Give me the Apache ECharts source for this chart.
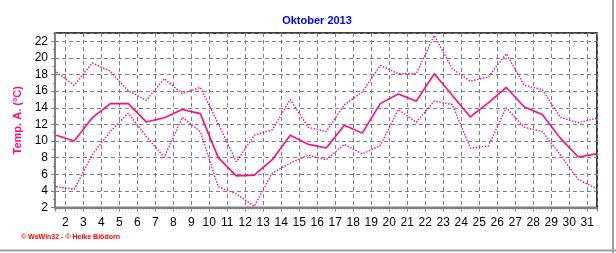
<!DOCTYPE html>
<html><head><meta charset="utf-8">
<script src="https://cdn.jsdelivr.net/npm/echarts@6/dist/echarts.min.js"></script>
<style>html,body{margin:0;padding:0;background:#fff}#c{width:616px;height:253px}</style>
</head><body><div id="c"></div>
<script>
const chartTitle = 'Oktober 2013';
const yAxisName = 'Temp. A. (°C)';
const footerText = '© WsWin32 - © Heike Blödorn';
const days = [1,2,3,4,5,6,7,8,9,10,11,12,13,14,15,16,17,18,19,20,21,22,23,24,25,26,27,28,29,30,31];
const tempMean = [10.7,10.0,12.8,14.5,14.5,12.3,12.8,13.8,13.3,8.0,5.8,5.9,7.75,10.7,9.6,9.15,11.9,10.95,14.5,15.65,14.8,18.1,15.5,12.9,14.6,16.45,14.1,13.2,10.35,8.07,8.45];
const tempMax = [18.3,16.7,19.4,18.4,16.05,14.9,17.5,15.7,16.45,12.1,7.5,10.7,11.35,15.0,11.65,11.15,14.35,15.9,19.1,18.1,18.1,22.7,18.7,17.2,17.7,20.5,16.7,16.2,12.85,12.2,12.75];
const tempMin = [4.5,4.2,8.35,11.15,13.35,10.55,8.05,12.85,11.15,4.48,3.65,2.15,6.15,7.35,8.3,7.75,9.6,8.45,9.45,13.8,12.25,14.8,14.4,9.15,9.4,14.0,11.65,11.15,8.35,5.35,4.3];

const pink = '#FF0A80';
const gridGray = '#808080';
const font = 'Liberation Sans, Arial, sans-serif';
const pts = vals => vals.map((v, i) => [days[i] + 0.5, v]);

const chart = echarts.init(document.getElementById('c'), null, {renderer: 'canvas'});
chart.setOption({
  animation: false,
  backgroundColor: '#fff',
  title: {
    text: chartTitle, left: 312, top: 10, textAlign: 'center',
    textStyle: {color: '#0000FF', fontSize: 11, fontWeight: 'bold', fontFamily: font}
  },
  grid: {left: 55, right: 19, top: 33, bottom: 45.5, show: true, borderColor: '#000', borderWidth: 1.5, backgroundColor: 'transparent'},
  xAxis: {
    type: 'value', min: 1.43, max: 31.54, splitNumber: 30, minInterval: 1, maxInterval: 1,
    axisLine: {show: true, onZero: false, lineStyle: {color: gridGray, width: 2}},
    axisTick: {show: true, length: 4, lineStyle: {color: gridGray}},
    minorTick: {show: true, splitNumber: 6, length: 2, lineStyle: {color: gridGray}},
    axisLabel: {
      margin: 9, color: '#000', fontSize: 12, fontFamily: font, showMinLabel: false, showMaxLabel: false,
      formatter: v => Math.abs(v - Math.round(v)) < 1e-6 ? String(Math.round(v)) : ''
    },
    splitLine: {show: true, lineStyle: {color: gridGray, type: [4, 3], width: 1}}
  },
  yAxis: [{
    type: 'value', min: 2, max: 23, interval: 2,
    name: yAxisName, nameLocation: 'middle', nameGap: 22,
    nameTextStyle: {color: pink, fontSize: 11, fontWeight: 'bold', fontFamily: font},
    axisLine: {show: true, lineStyle: {color: gridGray, width: 2}},
    axisTick: {show: true, length: 4, lineStyle: {color: gridGray}},
    axisLabel: {
      margin: 7, color: '#000', fontSize: 12, fontFamily: font, showMaxLabel: false,
      formatter: v => (v % 2 === 0 && v <= 22) ? String(v) : ''
    },
    splitLine: {show: true, lineStyle: {color: gridGray, type: [4, 3], width: 1}}
  }, {
    type: 'value', min: 2, max: 23, interval: 1, position: 'left',
    axisLine: {show: false}, axisTick: {show: true, length: 2, lineStyle: {color: gridGray}},
    axisLabel: {show: false}, splitLine: {show: false}
  }],
  series: [
    {type: 'line', name: 'max', data: pts(tempMax), showSymbol: false, lineStyle: {color: pink, width: 1.4, type: [1.5, 1.5]}, z: 3},
    {type: 'line', name: 'min', data: pts(tempMin), showSymbol: false, lineStyle: {color: pink, width: 1.4, type: [1.5, 1.5]}, z: 3},
    {type: 'line', name: 'mean', data: pts(tempMean), showSymbol: false, lineStyle: {color: pink, width: 1.6}, z: 4}
  ],
  graphic: [
    {type: 'line', shape: {x1: 613, y1: 0, x2: 613, y2: 253}, style: {stroke: '#a0a0a0', lineWidth: 2}},
    {type: 'line', shape: {x1: 0, y1: 250.5, x2: 616, y2: 250.5}, style: {stroke: '#a0a0a0', lineWidth: 2}},
    {type: 'text', left: 21, top: 234, style: {text: footerText, fill: '#FF0000', font: 'bold 7px ' + font}}
  ]
});
</script></body></html>
